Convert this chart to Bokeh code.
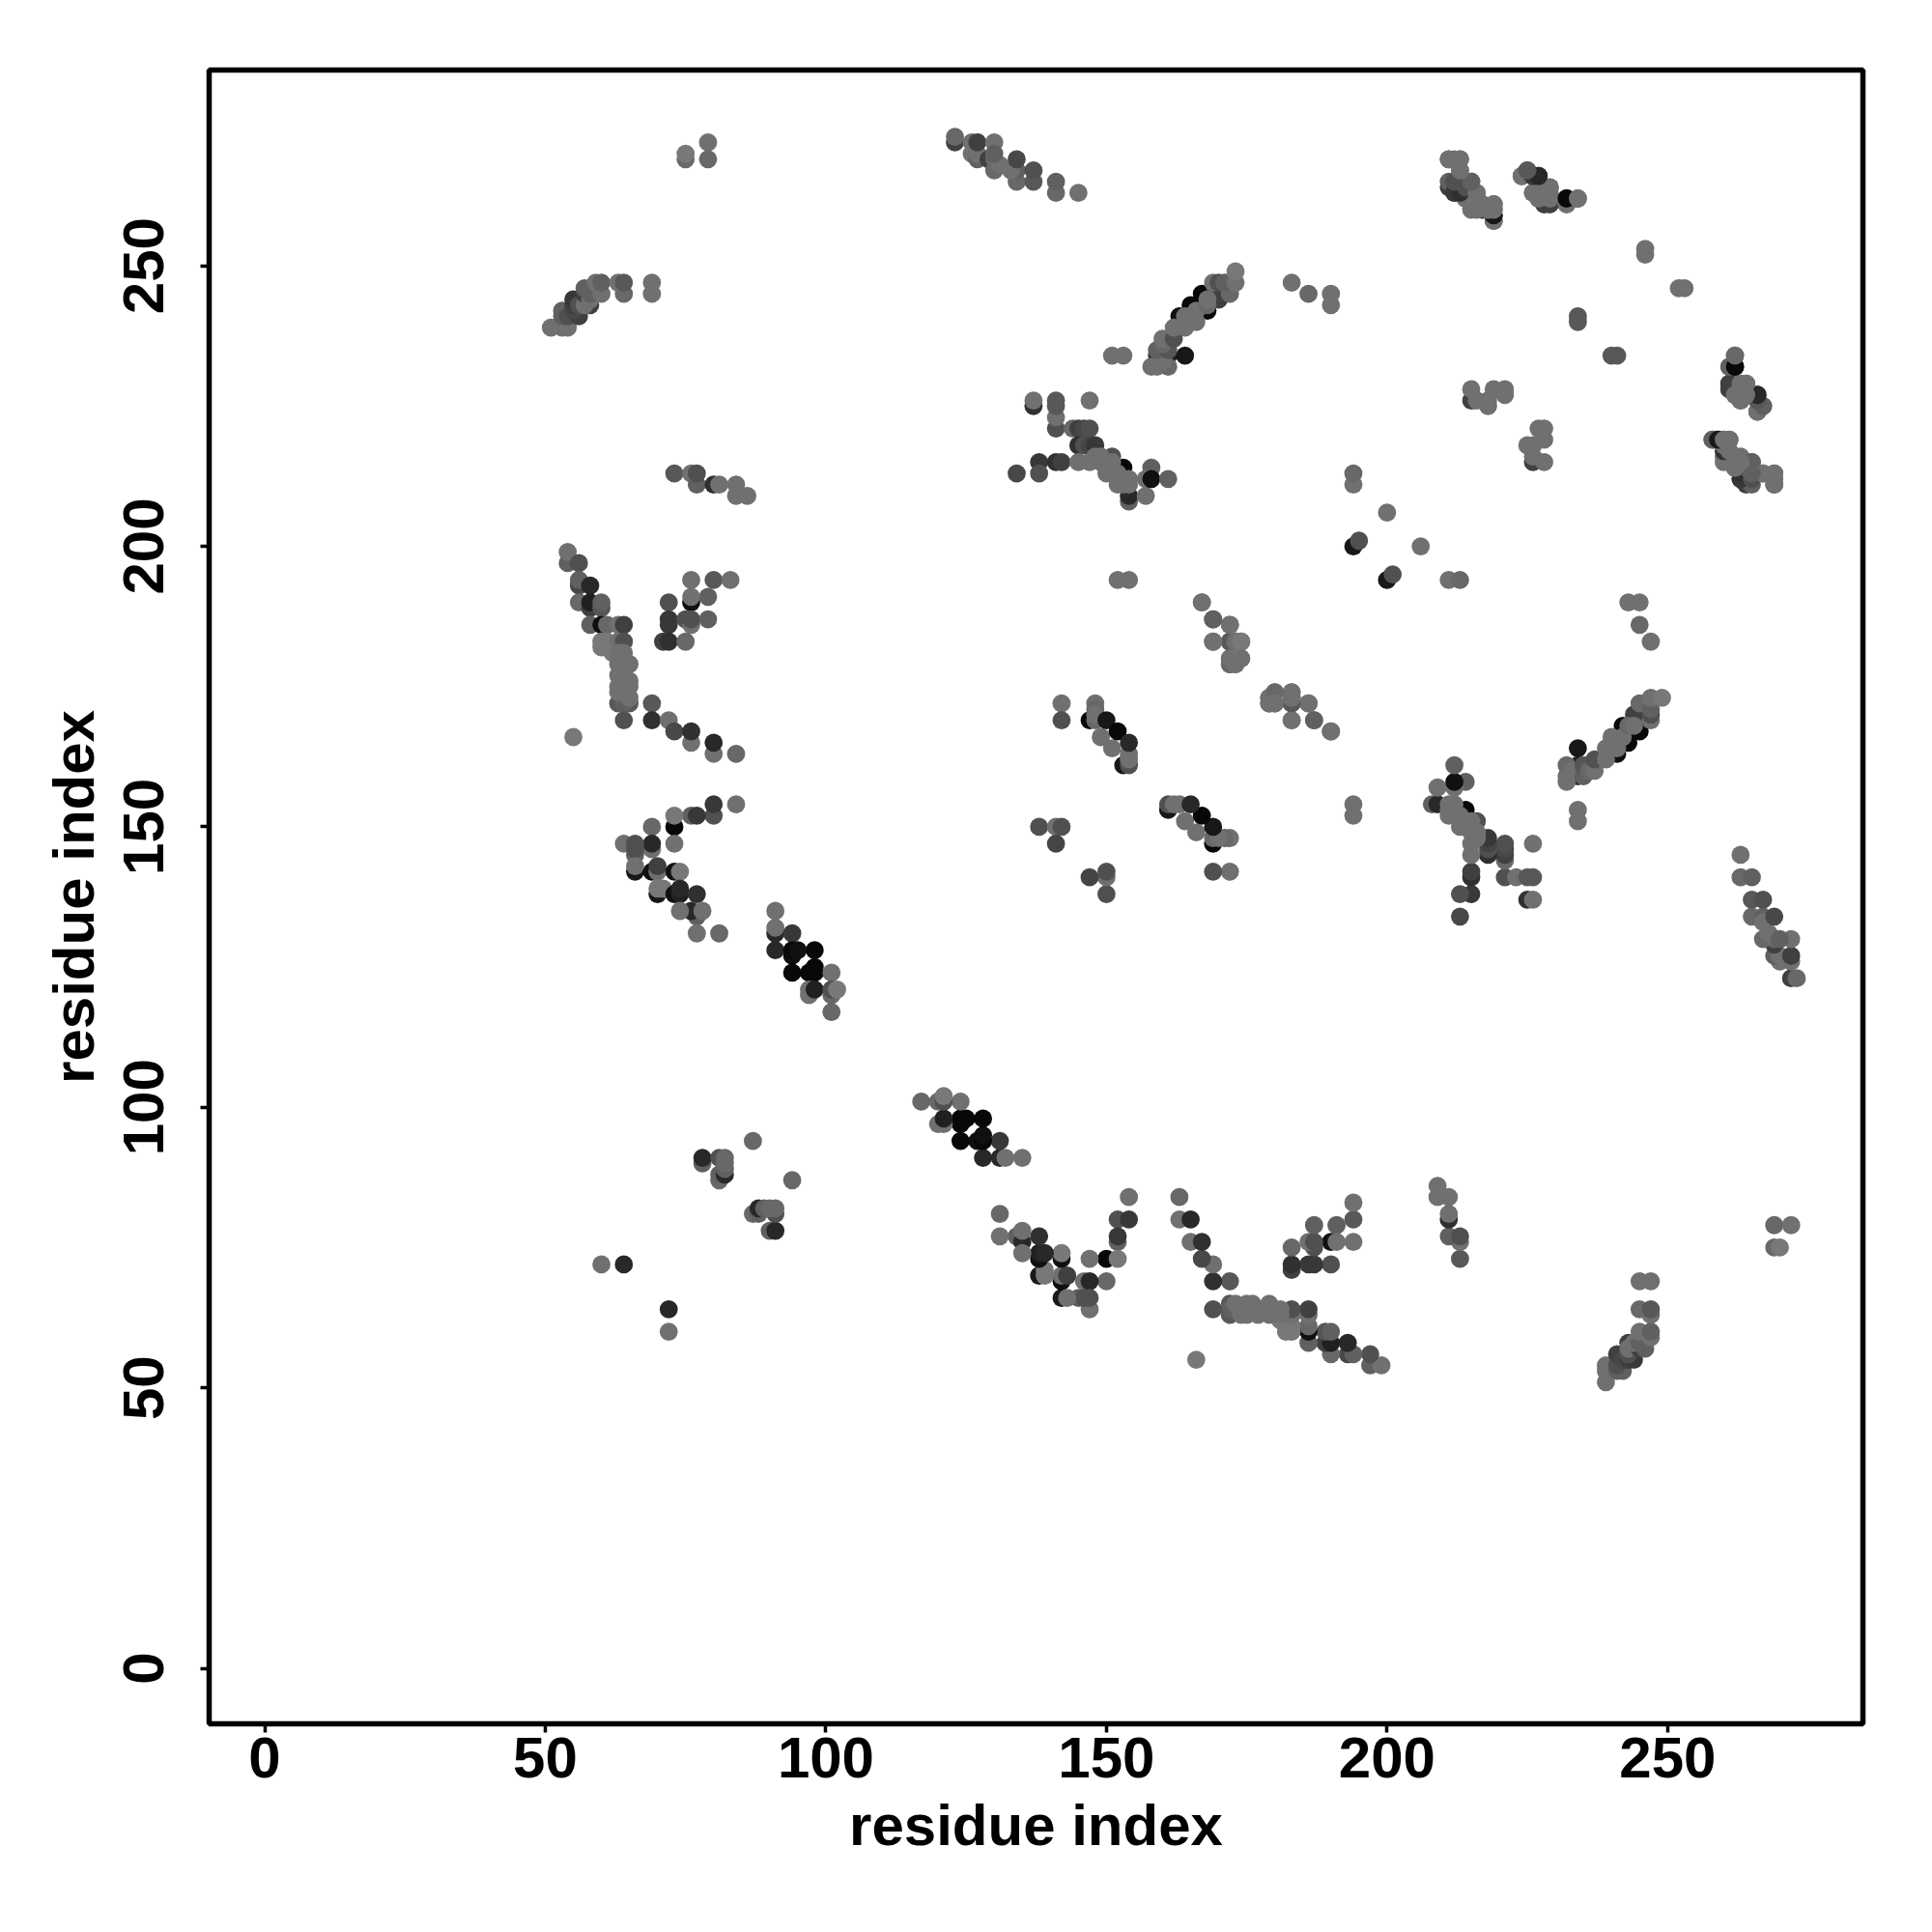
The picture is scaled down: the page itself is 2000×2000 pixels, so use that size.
from bokeh.plotting import figure
from bokeh.models import ColumnDataSource, FixedTicker, Range1d
from bokeh.embed import file_html
from bokeh.resources import INLINE

x_ticks = [0, 50, 100, 150, 200, 250]
y_ticks = [0, 50, 100, 150, 200, 250]
axis_title = "residue index"

# contacts (residue i, residue j, grey level); the map is symmetric
strand_a = [(54,197,0x60),(54,199,0x70),(56,197,0x50),(56,193,0x48),(56,194,0x60),(58,193,0x28),
 (56,190,0x68),(58,189,0x40),(58,190,0x20),(60,189,0x55),(60,190,0x60),
 (58,186,0x60),(60,186,0x10),(61,186,0x68),(63,186,0x70),(64,186,0x40),
 (60,183,0x78),(60,182,0x78),(61,182,0x78),(61,183,0x78),(62,181,0x78),(63,183,0x70),(64,183,0x50),
 (63,172,0x58),(65,172,0x58),(64,172,0x60),(63,174,0x70),(65,173,0x70),(63,175,0x70),(65,175,0x70),
 (63,177,0x70),(65,176,0x70),(64,177,0x70),(63,179,0x70),(65,179,0x70),(63,181,0x70),(64,181,0x70),
 (64,169,0x50),(69,172,0x58),(69,169,0x30),(72,169,0x70),(73,167,0x48),(76,165,0x70),(76,167,0x30),
 (80,163,0x70),(80,165,0x28),(84,163,0x68),(55,166,0x78)]

branch_b = [(76,194,0x70),(80,194,0x58),(83,194,0x70),(79,191,0x60),(76,190,0x10),(76,191,0x70),
 (72,190,0x50),(72,186,0x38),(72,187,0x38),(75,187,0x50),(76,186,0x70),(76,187,0x50),(79,187,0x60),
 (71,183,0x40),(72,183,0x30),(75,183,0x68)]

strand_c = [(80,152,0x50),(80,154,0x38),(84,154,0x70),(76,152,0x60),(77,152,0x38),(73,150,0x08),(73,152,0x78),
 (69,146,0x70),(69,150,0x68),(69,147,0x28),(73,147,0x70),(64,147,0x70),(66,145,0x60),(66,146,0x50),(66,147,0x50),
 (66,142,0x18),(69,142,0x10),(70,142,0x70),(66,143,0x70),(70,143,0x40),(73,142,0x10),(74,142,0x78),
 (70,138,0x18),(70,139,0x78),(71,139,0x78),(73,138,0x10),(74,138,0x20),(74,139,0x28),(77,138,0x30),
 (77,134,0x60),(76,135,0x28),(78,135,0x70),(74,135,0x70),(77,131,0x70),(81,131,0x68)]

helix_d = [(91,135,0x70),(91,131,0x28),(91,132,0x70),(94,131,0x38),(91,128,0x28),(94,127,0x10),(94,128,0x08),(95,128,0x10),
 (98,128,0x08),(94,124,0x08),(97,124,0x08),(98,124,0x08),(98,125,0x08),(101,124,0x70),(97,120,0x70),(97,121,0x70),
 (98,121,0x20),(101,120,0x68),(101,121,0x50),(102,121,0x78),(101,117,0x68)]

loop_e = [(78,90,0x60),(78,91,0x28),(81,87,0x68),(81,88,0x60),(81,91,0x50),(82,88,0x28),(82,89,0x60),(82,90,0x68),(82,91,0x68),(87,94,0x68),
 (60,72,0x70),(64,72,0x28),(75,269,0x68),(75,270,0x78),(79,269,0x68),(79,272,0x70)]

sheet_f = [(51,239,0x70),(53,239,0x70),(54,239,0x70),(53,241,0x60),(53,242,0x60),(54,241,0x50),(56,241,0x40),(55,242,0x48),
 (55,243,0x40),(55,244,0x38),(56,243,0x50),(58,243,0x40),(57,243,0x70),(57,245,0x40),(57,246,0x60),(58,244,0x70),(58,245,0x60),
 (60,245,0x70),(59,247,0x70),(60,247,0x60),(64,245,0x68),(63,247,0x70),(64,247,0x58),(69,245,0x70),(69,247,0x70)]

strand_g = [(73,213,0x58),(76,213,0x70),(77,211,0x60),(77,213,0x50),(80,211,0x30),(81,211,0x70),(84,209,0x70),(84,211,0x70),(86,209,0x70)]

strand_h = [(123,272,0x40),(123,273,0x68),(126,272,0x70),(126,270,0x70),(127,269,0x60),(127,270,0x70),(127,272,0x40),(130,272,0x70),
 (129,269,0x40),(130,267,0x68),(130,269,0x68),(131,268,0x70),(130,270,0x60),(134,265,0x68),(134,267,0x60),(133,267,0x70),(134,269,0x48),
 (137,265,0x58),(137,267,0x50),(141,263,0x68),(141,265,0x60),(145,263,0x70)]

strand_i = [(159,234,0x30),(161,234,0x20),(160,234,0x48),(164,234,0x18),(163,241,0x10),(165,243,0x08),(168,242,0x08),(167,245,0x08),
 (169,245,0x18),(170,244,0x40),(170,245,0x40),(158,232,0x70),(159,232,0x70),(161,232,0x68),(160,233,0x70),
 (159,235,0x60),(161,235,0x55),(160,236,0x68),(160,237,0x70),(162,237,0x50),(162,239,0x70),(164,239,0x70),(164,241,0x70),
 (166,240,0x70),(166,242,0x70),(168,243,0x68),(168,244,0x70),
 (172,245,0x68),(169,247,0x70),(170,247,0x50),(171,247,0x60),(173,247,0x70),(173,249,0x78),
 (151,234,0x70),(153,234,0x70),(183,247,0x70),(186,245,0x68),(190,243,0x70),(190,245,0x70)]

cluster_j = [(137,225,0x30),(137,226,0x70),(141,221,0x50),(141,223,0x70),(141,225,0x58),(141,226,0x58),(147,226,0x70),
 (144,221,0x68),(145,221,0x40),(146,221,0x48),(147,221,0x50),(145,218,0x30),(146,218,0x50),(147,218,0x45),(148,218,0x38),
 (151,216,0x50),(138,215,0x38),(141,215,0x30),(142,215,0x40),(134,213,0x48),(138,213,0x50),
 (145,215,0x70),(147,215,0x70),(149,215,0x70),(148,216,0x70),(149,216,0x70),(150,213,0x70),(153,214,0x08),
 (151,213,0x70),(152,213,0x70),(151,215,0x70),(154,208,0x60),(154,209,0x28),(152,211,0x70),(153,211,0x70),(154,211,0x70),(154,212,0x70),
 (157,209,0x70),(158,214,0x60),(157,212,0x70),(158,212,0x10),(161,212,0x60)]

patch_k = [(194,211,0x70),(194,213,0x68),(194,200,0x18),(195,201,0x50),(200,206,0x70),(152,194,0x70),(154,194,0x70),
 (167,190,0x70),(169,187,0x60),(172,186,0x70),(169,183,0x70),(172,183,0x58),(173,183,0x70),(174,183,0x70),
 (172,179,0x70),(173,179,0x70),(174,180,0x68),(172,180,0x70),
 (183,172,0x58),(183,173,0x70),(183,174,0x78),(186,172,0x70),(183,169,0x70),(187,169,0x60),(190,167,0x70),
 (179,172,0x68),(180,172,0x70),(179,173,0x70),(180,174,0x70)]

strand_l = [(147,169,0x08),(153,161,0x18),(154,161,0x50),(142,172,0x70),(142,169,0x50),(148,172,0x70),(148,171,0x68),(148,169,0x68),
 (148,170,0x70),(149,166,0x70),(151,164,0x70),(154,162,0x70),(154,163,0x70),(150,169,0x18),(152,167,0x08),(154,165,0x28)]

strand_m = [(138,150,0x50),(141,150,0x70),(142,150,0x50),(141,147,0x45)]

strand_n = [(211,264,0x40),(211,265,0x60),(212,263,0x38),(213,263,0x30),(212,265,0x50),(214,264,0x50),(215,265,0x60),
 (211,269,0x70),(212,269,0x70),(213,269,0x70),(213,267,0x70),(213,265,0x60),(214,262,0x70),(215,263,0x70),(215,260,0x70),
 (216,261,0x70),(217,260,0x30),(218,260,0x70),(217,261,0x70),(219,258,0x60),(219,259,0x18),(219,260,0x70),(219,261,0x70)]

strand_o = [(224,266,0x70),(225,267,0x60),(226,266,0x58),(227,266,0x28),(226,263,0x70),(227,264,0x70),(228,261,0x40),(229,261,0x40),
 (227,262,0x70),(229,263,0x70),(229,264,0x70),(232,261,0x60),(232,262,0x08),(234,262,0x68),
 (234,240,0x58),(234,241,0x58),(246,252,0x70),(246,253,0x70)]

patch_p = [(215,226,0x40),(215,228,0x70),(216,226,0x70),(218,225,0x70),(218,226,0x70),(219,228,0x70),(221,227,0x70),(221,228,0x70)]

strand_q = [(261,228,0x40),(261,229,0x40),(262,229,0x70),(264,229,0x70),(262,227,0x70),(263,227,0x70),(263,226,0x70),(266,224,0x70),
 (266,226,0x38),(266,227,0x28),(267,225,0x58),(261,232,0x70),(262,232,0x08),(262,234,0x70)]

strand_r = [(258,219,0x70),(259,219,0x18),(260,219,0x70),(261,219,0x70),(260,218,0x70),(260,216,0x70),(262,214,0x70),(262,215,0x70),
 (263,212,0x38),(263,213,0x30),(265,212,0x50),(264,214,0x50),(263,216,0x70),(265,215,0x60),(267,213,0x70),(269,213,0x70),(269,211,0x70)]

all_contacts = (strand_a + branch_b + strand_c + helix_d + loop_e + sheet_f + strand_g + strand_h + strand_i
                + cluster_j + patch_k + strand_l + strand_m + strand_n + strand_o + patch_p + strand_q + strand_r)


def grey(v):
    return "#%02x%02x%02x" % (v, v, v)


res_i = [c[0] for c in all_contacts]
res_j = [c[1] for c in all_contacts]
shades = [grey(c[2]) for c in all_contacts]
src = ColumnDataSource(dict(i=res_i, j=res_j, c=shades))

p = figure(frame_width=1712, frame_height=1712, output_backend="svg", toolbar_location=None,
           x_range=Range1d(-9.9, 284.8), y_range=Range1d(-9.9, 284.9),
           min_border_left=216, min_border_top=72, min_border_right=30, min_border_bottom=140,
           background_fill_color="white", border_fill_color="white")
p.grid.visible = False
p.outline_line_color = "black"
p.outline_line_width = 5.5

for ax, ticks in ((p.xaxis[0], x_ticks), (p.yaxis[0], y_ticks)):
    ax.ticker = FixedTicker(ticks=ticks)
    ax.axis_line_color = None
    ax.major_tick_line_color = "black"
    ax.major_tick_line_width = 3.5
    ax.major_tick_out = 9
    ax.major_tick_in = 0
    ax.minor_tick_line_color = None
    ax.major_label_text_font = "Liberation Sans"
    ax.major_label_text_font_style = "bold"
    ax.major_label_text_font_size = "60px"
    ax.major_label_text_color = "black"
    ax.axis_label = axis_title
    ax.axis_label_text_font = "Liberation Sans"
    ax.axis_label_text_font_style = "bold"
    ax.axis_label_text_font_size = "60px"
    ax.axis_label_text_color = "black"
p.xaxis[0].major_label_standoff = 5
p.xaxis[0].axis_label_standoff = 13
p.yaxis[0].major_label_orientation = "vertical"
p.yaxis[0].major_label_standoff = 38
p.yaxis[0].axis_label_standoff = 16

p.scatter("i", "j", source=src, size=18.8, fill_color="c", line_color=None)
p.scatter("j", "i", source=src, size=18.8, fill_color="c", line_color=None)

open("out.html", "w").write(file_html(p, INLINE))
